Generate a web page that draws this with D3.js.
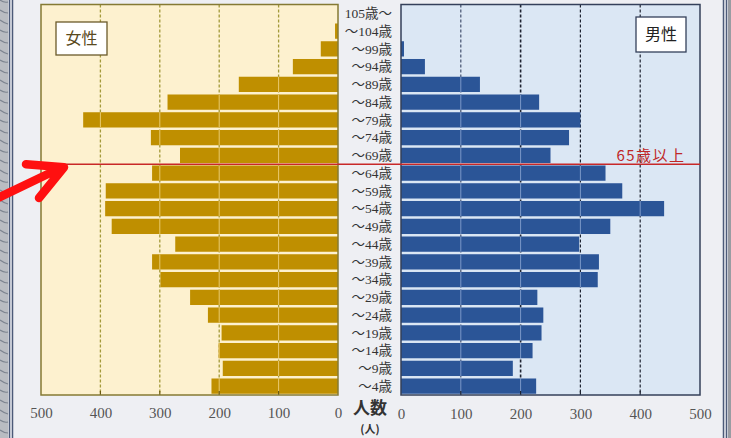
<!DOCTYPE html>
<html><head><meta charset="utf-8">
<script src="https://cdn.jsdelivr.net/npm/d3@7/dist/d3.min.js"></script>
<style>html,body{margin:0;padding:0;background:#eeeff3;}svg{display:block;}</style>
</head><body>
<svg id="c" width="731" height="438"></svg>
<script>
const categories = ["105歳～","～104歳","～99歳","～94歳","～89歳","～84歳","～79歳","～74歳","～69歳","～64歳","～59歳","～54歳","～49歳","～44歳","～39歳","～34歳","～29歳","～24歳","～19歳","～14歳","～9歳","～4歳"];
const female = [0,5,29,76,167,287,429,315,266,313,391,392,381,274,313,299,249,219,196,201,194,213];
const male   = [0,0,5,40,132,231,300,281,250,342,370,440,350,298,331,329,228,238,235,220,187,226];
const tickValues = [0,100,200,300,400,500];
const gridValues = [100,200,300,400];
const seniorBoundary = "～64歳";
const seniorLabel = "65歳以上";

const svg = d3.select("#c");
const yTop = 4.5, yBottom = 395;
const y = d3.scaleBand().domain(categories).range([yTop, yBottom]).paddingInner(0.14).paddingOuter(0.07);
const xL = d3.scaleLinear().domain([0,500]).range([338,41]);
const xR = d3.scaleLinear().domain([0,500]).range([401,700]);

// page decorations
svg.append("rect").attr("x",0).attr("y",0).attr("width",731).attr("height",438).attr("fill","#eeeff3");
svg.append("rect").attr("x",0).attr("y",0).attr("width",8).attr("height",438).attr("fill","#b9bcc2");
for (let i=0;i<44;i++){
  svg.append("path").attr("d",`M0,${i*10} q4,3 8,${(i%3)+2}`).attr("stroke","#7d8490").attr("stroke-width",1.2).attr("fill","none");
}
svg.append("line").attr("x1",9.5).attr("x2",9.5).attr("y1",0).attr("y2",438).attr("stroke","#4c5a78").attr("stroke-width",1.5);
svg.append("line").attr("x1",12.5).attr("x2",12.5).attr("y1",0).attr("y2",438).attr("stroke","#4c5a78").attr("stroke-width",1.5);
svg.append("line").attr("x1",723.5).attr("x2",723.5).attr("y1",0).attr("y2",438).attr("stroke","#4c5a78").attr("stroke-width",1.5);
svg.append("line").attr("x1",726.5).attr("x2",726.5).attr("y1",0).attr("y2",438).attr("stroke","#4c5a78").attr("stroke-width",1.5);
svg.append("rect").attr("x",728).attr("y",0).attr("width",3).attr("height",438).attr("fill","#9a9ca2");

// panels backgrounds
svg.append("rect").attr("x",xL(500)).attr("y",yTop).attr("width",xL(0)-xL(500)).attr("height",yBottom-yTop).attr("fill","#fdf1cf");
svg.append("rect").attr("x",xR(0)).attr("y",yTop).attr("width",xR(500)-xR(0)).attr("height",yBottom-yTop).attr("fill","#dbe7f4");

// gridlines (behind)
svg.append("g").selectAll("line").data(gridValues).join("line")
  .attr("x1",d=>xL(d)).attr("x2",d=>xL(d)).attr("y1",yTop).attr("y2",yBottom)
  .attr("stroke","#a39a3a").attr("stroke-width",1.3).attr("stroke-dasharray","3,2");
svg.append("g").selectAll("line").data(gridValues).join("line")
  .attr("x1",d=>xR(d)).attr("x2",d=>xR(d)).attr("y1",yTop).attr("y2",yBottom)
  .attr("stroke",d=>d===100?"#44526e":"#1e2330").attr("stroke-width",d=>d===200?1.6:1.2).attr("stroke-dasharray","3,2");

// bars
svg.append("g").selectAll("rect").data(categories).join("rect")
  .attr("x",(d,i)=>xL(female[i])).attr("y",d=>y(d))
  .attr("width",(d,i)=>xL(0)-xL(female[i])).attr("height",y.bandwidth())
  .attr("fill","#bf8f00");
svg.append("g").selectAll("rect").data(categories).join("rect")
  .attr("x",xR(0)).attr("y",d=>y(d))
  .attr("width",(d,i)=>xR(male[i])-xR(0)).attr("height",y.bandwidth())
  .attr("fill","#2b5597");

// light lines across bars at grid positions
categories.forEach((c,i)=>{
  gridValues.filter(g=>g<female[i]).forEach(g=>{
    svg.append("line").attr("x1",xL(g)).attr("x2",xL(g)).attr("y1",y(c)).attr("y2",y(c)+y.bandwidth())
      .attr("stroke","#f3d98a").attr("stroke-width",1).attr("opacity",0.8);
  });
  gridValues.filter(g=>g<male[i]).forEach(g=>{
    svg.append("line").attr("x1",xR(g)).attr("x2",xR(g)).attr("y1",y(c)).attr("y2",y(c)+y.bandwidth())
      .attr("stroke","#8fa8d4").attr("stroke-width",1).attr("opacity",0.8);
  });
});

// small ticks at bottom
svg.append("g").selectAll("line").data(gridValues).join("line")
  .attr("x1",d=>xL(d)).attr("x2",d=>xL(d)).attr("y1",yBottom-4).attr("y2",yBottom)
  .attr("stroke","#6b5a10").attr("stroke-width",1.2);
svg.append("g").selectAll("line").data(gridValues).join("line")
  .attr("x1",d=>xR(d)).attr("x2",d=>xR(d)).attr("y1",yBottom-4).attr("y2",yBottom)
  .attr("stroke","#1e2330").attr("stroke-width",1.2);

// frames
svg.append("rect").attr("x",xL(500)).attr("y",yTop).attr("width",xL(0)-xL(500)).attr("height",yBottom-yTop)
  .attr("fill","none").attr("stroke","#857a33").attr("stroke-width",1.5);
svg.append("rect").attr("x",xR(0)).attr("y",yTop).attr("width",xR(500)-xR(0)).attr("height",yBottom-yTop)
  .attr("fill","none").attr("stroke","#34405a").attr("stroke-width",1.5);

// age labels
svg.append("g").selectAll("text").data(categories).join("text")
  .attr("x",392).attr("y",d=>y(d)+y.bandwidth()/2).attr("dy","0.36em")
  .attr("text-anchor","end").attr("font-family","'Liberation Serif','DejaVu Serif','Noto Sans CJK JP',serif")
  .attr("font-size",13.5).attr("fill","#333").text(d=>d);

// axes
const axL = svg.append("g").attr("transform",`translate(0,${yBottom+12})`)
  .call(d3.axisBottom(xL).tickValues(tickValues).tickSize(0).tickPadding(0));
const axR = svg.append("g").attr("transform",`translate(0,${yBottom+13})`)
  .call(d3.axisBottom(xR).tickValues(tickValues).tickSize(0).tickPadding(0));
[axL,axR].forEach(a=>{
  a.select(".domain").remove();
  a.selectAll("text").attr("font-family","'Liberation Serif','DejaVu Serif',serif").attr("font-size",15).attr("fill","#555");
});

svg.append("text").attr("x",370).attr("y",414).attr("text-anchor","middle")
  .attr("font-family","'Noto Sans CJK JP',sans-serif").attr("font-size",17).attr("font-weight","bold").attr("fill","#333").text("人数");
svg.append("text").attr("x",370).attr("y",433).attr("text-anchor","middle")
  .attr("font-family","'Noto Sans CJK JP',sans-serif").attr("font-size",11).attr("font-weight","bold").attr("fill","#333").text("(人)");

// legend boxes
svg.append("rect").attr("x",56).attr("y",22).attr("width",51).attr("height",33).attr("fill","#fff").attr("stroke","#6b5a2a").attr("stroke-width",1.3);
svg.append("text").attr("x",81.5).attr("y",38.5).attr("dy","0.36em").attr("text-anchor","middle")
  .attr("font-family","'Noto Sans CJK JP',sans-serif").attr("font-size",16).attr("fill","#5a4a20").text("女性");
svg.append("rect").attr("x",636).attr("y",17).attr("width",50).attr("height",35).attr("fill","#fff").attr("stroke","#34405a").attr("stroke-width",1.3);
svg.append("text").attr("x",661).attr("y",34.5).attr("dy","0.36em").attr("text-anchor","middle")
  .attr("font-family","'Noto Sans CJK JP',sans-serif").attr("font-size",16).attr("fill","#222").text("男性");

// 65+ line
const yb = y(seniorBoundary) - y.step()*y.paddingInner()/2;
svg.append("line").attr("x1",62).attr("x2",xR(500)).attr("y1",yb).attr("y2",yb).attr("stroke","#c82828").attr("stroke-width",1.4);
svg.append("text").attr("x",651).attr("y",yb-9).attr("text-anchor","middle").attr("dy","0.36em")
  .attr("font-family","'Noto Sans CJK JP',sans-serif").attr("font-size",15).attr("letter-spacing",1.5).attr("fill","#c02828").text(seniorLabel);

// red arrow
svg.append("path").attr("d",`M-2,198 L62,${yb+3} M26,${yb} L64,${yb+3} L39,198`)
  .attr("stroke","#ff1010").attr("stroke-width",8.5).attr("fill","none").attr("stroke-linecap","round").attr("stroke-linejoin","round");
</script>
</body></html>
